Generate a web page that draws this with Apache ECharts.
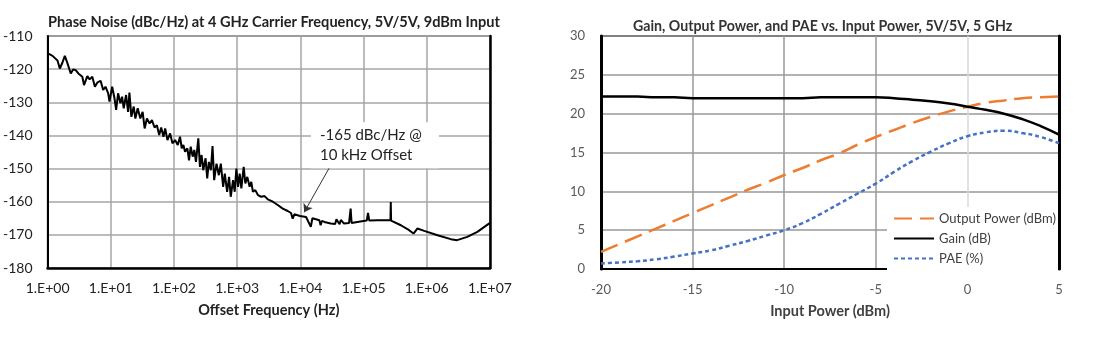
<!DOCTYPE html>
<html><head><meta charset="utf-8">
<script src="https://cdn.jsdelivr.net/npm/echarts@6/dist/echarts.min.js"></script>
<style>html,body{margin:0;padding:0;background:#fff}#c{width:1099px;height:337px}</style>
</head><body><div id="c"></div>
<script>
// ---- Left chart: phase noise (x = log10 of offset frequency in Hz) ----
const pnLogFreq = [0,0.079,0.157,0.194,0.236,0.273,0.314,0.367,0.404,0.445,0.487,0.55,0.577,0.629,0.666,0.708,0.749,0.786,0.839,0.88,0.917,0.959,0.98,1.022,1.059,1.085,1.116,1.153,1.179,1.205,1.242,1.274,1.295,1.326,1.363,1.389,1.426,1.468,1.504,1.536,1.572,1.614,1.651,1.693,1.73,1.766,1.798,1.834,1.861,1.897,1.939,1.976,2.018,2.06,2.096,2.123,2.149,2.175,2.212,2.238,2.265,2.296,2.322,2.348,2.385,2.411,2.437,2.463,2.5,2.526,2.552,2.584,2.61,2.636,2.673,2.71,2.741,2.778,2.804,2.841,2.872,2.898,2.935,2.961,2.987,3.014,3.04,3.066,3.103,3.129,3.16,3.197,3.223,3.249,3.286,3.328,3.381,3.433,3.485,3.564,3.642,3.721,3.8,3.852,3.878,3.905,3.994,4.09,4.165,4.19,4.22,4.3,4.32,4.34,4.38,4.48,4.55,4.57,4.62,4.64,4.69,4.77,4.795,4.81,4.9,5.05,5.07,5.09,5.22,5.38,5.425,5.43,5.435,5.59,5.72,5.79,5.85,5.96,6.17,6.38,6.48,6.64,6.8,7.0];
const pnLevel = [-115.2,-116.0,-117.4,-119.8,-118.0,-116.0,-118.2,-121.3,-120.1,-120.3,-121.3,-122.3,-124.8,-122.1,-123.1,-122.3,-125.3,-124.1,-123.5,-126.3,-125.3,-127.3,-129.8,-125.3,-128.8,-132.3,-127.3,-130.3,-128.3,-131.8,-127.8,-132.9,-127.1,-134.4,-131.3,-134.9,-131.8,-134.9,-132.9,-137.9,-134.9,-136.4,-135.4,-137.6,-136.9,-139.9,-137.6,-140.4,-137.9,-141.4,-139.4,-142.4,-141.4,-142.9,-140.4,-143.9,-142.9,-144.9,-143.9,-147.5,-143.4,-146.4,-144.4,-148.0,-140.9,-149.5,-145.9,-150.5,-146.9,-153.0,-148.0,-150.5,-143.2,-153.5,-148.5,-152.0,-148.5,-155.5,-151.5,-157.0,-152.5,-158.5,-153.5,-157.0,-150.0,-155.5,-151.5,-156.0,-149.5,-154.5,-152.5,-155.5,-154.0,-157.0,-156.5,-158.0,-158.5,-158.3,-159.3,-160.0,-161.0,-162.1,-162.8,-163.4,-165.1,-163.8,-164.3,-164.6,-167.6,-165.0,-165.1,-165.6,-167.1,-165.8,-166.1,-166.6,-166.7,-165.3,-166.8,-165.5,-166.6,-166.4,-162.1,-166.4,-166.1,-165.7,-163.4,-165.7,-165.6,-165.6,-165.6,-160.1,-165.7,-167.1,-168.6,-169.6,-168.1,-168.8,-170.1,-171.3,-171.6,-170.6,-169.1,-166.4];
const pnTickLabels = ['1.E+00','1.E+01','1.E+02','1.E+03','1.E+04','1.E+05','1.E+06','1.E+07'];

// ---- Right chart: gain / output power / PAE vs input power ----
const inputPower  = [-20,-19,-18,-17,-16,-15,-14,-13,-12,-11,-10,-9,-8,-7,-6,-5,-4,-3,-2,-1,0,1,2,3,4,5];
const outputPower = [2.2,3.2,4.2,5.2,6.2,7.2,8.2,9.2,10.2,11.1,12.1,13.0,14.0,14.9,16.0,17.0,17.9,18.8,19.6,20.3,20.9,21.4,21.7,22.0,22.1,22.2];
const gain        = [22.2,22.2,22.2,22.1,22.1,22.0,22.0,22.0,22.0,22.0,22.0,22.0,22.1,22.1,22.1,22.1,22.0,21.8,21.6,21.3,20.9,20.5,20.0,19.3,18.4,17.3];
const pae         = [0.7,0.85,1.0,1.25,1.6,2.0,2.4,3.0,3.6,4.3,5.0,5.9,7.1,8.4,9.7,11.0,12.5,13.9,15.1,16.2,17.1,17.6,17.8,17.5,17.0,16.2];

const FONT = 'Lato, "Liberation Sans", sans-serif';
const chart = echarts.init(document.getElementById('c'), null, {renderer: 'canvas'});
const gridLine = {show: true, lineStyle: {color: '#a6a6a6', width: 1.5}};
const hiddenSymbol = {opacity: 0};

chart.setOption({
  backgroundColor: '#fff',
  animation: false,
  textStyle: {fontFamily: FONT},
  title: [
    {text: 'Phase Noise (dBc/Hz) at 4 GHz Carrier Frequency, 5V/5V, 9dBm Input', left: 43, top: 10,
     textStyle: {fontFamily: FONT, fontSize: 14.6, fontWeight: 'bold', color: '#222'}},
    {text: 'Gain, Output Power, and PAE vs. Input Power, 5V/5V, 5 GHz', left: 628, top: 14,
     textStyle: {fontFamily: FONT, fontSize: 14.2, fontWeight: 'bold', color: '#333'}}
  ],
  grid: [
    {left: 45, top: 36, width: 445, height: 232, show: true, borderColor: '#555', borderWidth: 1.5},
    {left: 601, top: 36, width: 458, height: 233, show: true, borderColor: '#000', borderWidth: 1.5}
  ],
  legend: {
    data: [
      {name: 'Output Power (dBm)', itemStyle: hiddenSymbol},
      {name: 'Gain (dB)', itemStyle: hiddenSymbol},
      {name: 'PAE (%)', itemStyle: hiddenSymbol}
    ],
    orient: 'vertical', left: 887, top: 207,
    itemWidth: 40, itemHeight: 12, itemGap: 7,
    padding: [5, 2, 5, 6],
    backgroundColor: '#fff',
    itemStyle: hiddenSymbol,
    textStyle: {fontFamily: FONT, fontSize: 13, color: '#404040'}
  },
  xAxis: [
    {gridIndex: 0, type: 'value', min: 0, max: 7, interval: 1,
     name: 'Offset Frequency (Hz)', nameLocation: 'middle', nameGap: 35,
     nameTextStyle: {fontFamily: FONT, fontSize: 14.5, fontWeight: 'bold', color: '#222'},
     axisLine: {show: true, onZero: false, lineStyle: {color: '#000', width: 2.5}},
     axisTick: {show: false},
     axisLabel: {margin: 13, fontSize: 14, color: '#222', fontFamily: FONT,
                 formatter: v => pnTickLabels[Math.round(v)]},
     splitLine: gridLine},
    {gridIndex: 1, type: 'value', min: -20, max: 5, interval: 5,
     name: 'Input Power (dBm)', nameLocation: 'middle', nameGap: 35,
     nameTextStyle: {fontFamily: FONT, fontSize: 14.5, fontWeight: 'bold', color: '#404040'},
     axisLine: {show: true, onZero: false, lineStyle: {color: '#000', width: 2}},
     axisTick: {show: false},
     axisLabel: {margin: 14, fontSize: 13, color: '#595959', fontFamily: FONT},
     splitLine: {show: true, lineStyle: {color: ['#999','#999','#999','#999','#d9d9d9','#999'], width: 1.5}}}
  ],
  yAxis: [
    {gridIndex: 0, type: 'value', min: -180, max: -110, interval: 10,
     axisLine: {show: true, onZero: false, lineStyle: {color: '#000', width: 2}},
     axisTick: {show: false},
     axisLabel: {margin: 15, fontSize: 14, color: '#222', fontFamily: FONT},
     splitLine: gridLine},
    {gridIndex: 0, type: 'value', min: -180, max: -110, interval: 10, position: 'right',
     axisLine: {show: true, onZero: false, lineStyle: {color: '#000', width: 2.5}},
     axisTick: {show: false}, axisLabel: {show: false}, splitLine: {show: false}},
    {gridIndex: 1, type: 'value', min: 0, max: 30, interval: 5,
     axisLine: {show: true, onZero: false, lineStyle: {color: '#000', width: 3}},
     axisTick: {show: false},
     axisLabel: {margin: 16, fontSize: 13, color: '#595959', fontFamily: FONT},
     splitLine: {show: true, lineStyle: {color: '#999', width: 1.5}}},
    {gridIndex: 1, type: 'value', min: 0, max: 30, interval: 5, position: 'right',
     axisLine: {show: true, onZero: false, lineStyle: {color: '#000', width: 3}},
     axisTick: {show: false}, axisLabel: {show: false}, splitLine: {show: false}}
  ],
  series: [
    {name: 'Phase Noise', type: 'line', xAxisIndex: 0, yAxisIndex: 0,
     data: pnLogFreq.map((x, i) => [x, pnLevel[i]]),
     symbol: 'none', lineStyle: {color: '#000', width: 2}, z: 3,
     markPoint: {
       silent: true, z: 5,
       data: [{coord: [5.18, -143], symbol: 'rect', symbolSize: [128, 46],
               itemStyle: {color: '#fff'},
               label: {show: true, position: 'insideLeft', distance: 9,
                       formatter: '-165 dBc/Hz @\n10 kHz Offset',
                       fontFamily: FONT, fontSize: 15, lineHeight: 20, color: '#222'}}]
     },
     markLine: {
       silent: true, symbol: ['none', 'arrow'], symbolSize: 8,
       label: {show: false},
       lineStyle: {color: '#333', width: 1, type: 'solid'},
       data: [[{coord: [4.48, -149]}, {coord: [4.06, -163.2]}]]
     }},
    {name: 'Output Power (dBm)', type: 'line', xAxisIndex: 1, yAxisIndex: 2,
     data: inputPower.map((x, i) => [x, outputPower[i]]), smooth: true,
     symbol: 'none', lineStyle: {color: '#ED7D31', width: 2.5, type: [18, 8]}, itemStyle: {color: '#ED7D31'}},
    {name: 'Gain (dB)', type: 'line', xAxisIndex: 1, yAxisIndex: 2,
     data: inputPower.map((x, i) => [x, gain[i]]), smooth: true,
     symbol: 'none', lineStyle: {color: '#000', width: 2.5}, itemStyle: {color: '#000'}},
    {name: 'PAE (%)', type: 'line', xAxisIndex: 1, yAxisIndex: 2,
     data: inputPower.map((x, i) => [x, pae[i]]), smooth: true,
     symbol: 'none', lineStyle: {color: '#4472C4', width: 2.5, type: [4, 3]}, itemStyle: {color: '#4472C4'}}
  ]
});
</script>
</body></html>
